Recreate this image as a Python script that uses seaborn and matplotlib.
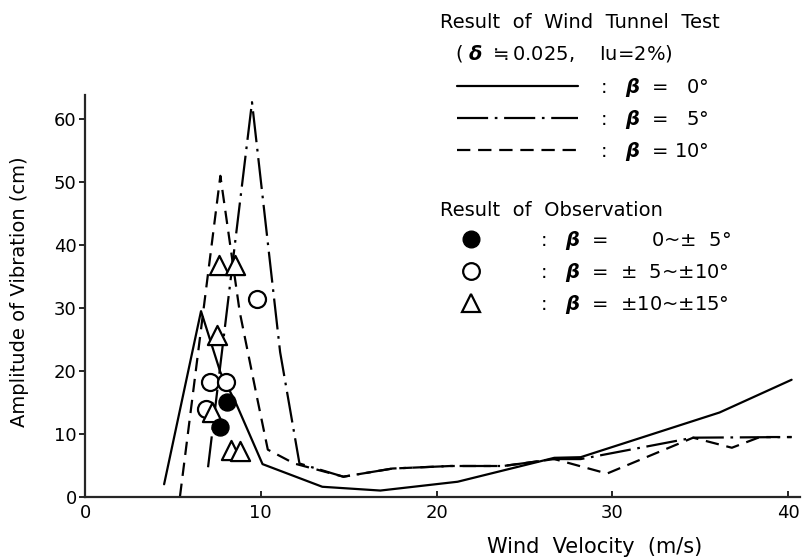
"""
Wind tunnel test vs. observation: amplitude of vibration over wind velocity
"""
import matplotlib
matplotlib.use('Agg')
import matplotlib.pyplot as plt
import seaborn as sns
from matplotlib.lines import Line2D

# Wind tunnel test results
beta0_x = [4.5, 6.6, 7.7, 8.6, 10.1, 13.5, 16.8, 21.2, 26.7, 28.2, 36.1, 40.2]
beta0_y = [2.0, 29.5, 19.8, 14.8, 5.2, 1.6, 1.0, 2.4, 6.2, 6.3, 13.4, 18.6]

beta5_x = [7.0, 9.5, 11.1, 12.2, 14.7, 17.5, 20.8, 23.8, 26.7, 28.2, 34.6, 40.2]
beta5_y = [4.7, 62.7, 23.0, 5.3, 3.2, 4.5, 4.9, 4.9, 6.0, 6.0, 9.4, 9.5]

beta10_x = [5.4, 7.7, 8.8, 9.8, 10.4, 11.9, 14.7, 17.5, 20.8, 23.8, 26.7, 29.7, 34.6, 36.8, 38.4, 40.2]
beta10_y = [0.0, 51.0, 29.4, 15.6, 7.5, 5.3, 3.2, 4.5, 4.9, 4.9, 6.0, 3.7, 9.4, 7.8, 9.5, 9.5]

# Observations
obs_filled_x = [8.1, 7.7]
obs_filled_y = [15.1, 11.1]
obs_open_x = [9.8, 7.1, 8.0, 6.9]
obs_open_y = [31.5, 18.3, 18.3, 14.0]
obs_tri_x = [7.6, 8.55, 7.5, 7.2, 8.3, 8.8]
obs_tri_y = [36.8, 36.8, 25.7, 13.4, 7.5, 7.3]

x_ticks = [0, 10, 20, 30, 40]
y_ticks = [0, 10, 20, 30, 40, 50, 60]

sns.set_style('ticks')
plt.rcParams['font.family'] = ['DejaVu Sans']
plt.rcParams['mathtext.fontset'] = 'dejavusans'
plt.rcParams['text.color'] = 'black'
plt.rcParams['axes.labelcolor'] = 'black'
plt.rcParams['xtick.color'] = 'black'
plt.rcParams['ytick.color'] = 'black'

fig = plt.figure(figsize=(8.02, 5.57), dpi=100)
ax = fig.add_axes([0.106, 0.108, 0.892, 0.721])

lw = 1.6
dashdot = [14, 3, 1.2, 3]
dashed = [6, 3.5]
sns.lineplot(x=beta0_x, y=beta0_y, ax=ax, sort=False, estimator=None,
             color='black', lw=lw, linestyle='-')
sns.lineplot(x=beta5_x, y=beta5_y, ax=ax, sort=False, estimator=None,
             color='black', lw=lw)
ax.lines[-1].set_dashes(dashdot)
sns.lineplot(x=beta10_x, y=beta10_y, ax=ax, sort=False, estimator=None,
             color='black', lw=lw)
ax.lines[-1].set_dashes(dashed)

sns.scatterplot(x=obs_open_x, y=obs_open_y, ax=ax, marker='o', s=150,
                facecolor='white', edgecolor='black', linewidth=1.6, zorder=3)
sns.scatterplot(x=obs_tri_x, y=obs_tri_y, ax=ax, marker='^', s=190,
                facecolor='white', edgecolor='black', linewidth=1.6, zorder=3)
sns.scatterplot(x=obs_filled_x, y=obs_filled_y, ax=ax, marker='o', s=150,
                color='black', edgecolor='black', zorder=4)

ax.set_xlim(0, 40.7)
ax.set_ylim(0, 63.8)
ax.set_xticks(x_ticks)
ax.set_yticks(y_ticks)
ax.tick_params(axis='y', direction='out', length=4, width=1.2, labelsize=13, pad=2)
ax.tick_params(axis='x', direction='in', length=4, width=1.2, labelsize=13, pad=5)
sns.despine(ax=ax)
for sp in ax.spines.values():
    sp.set_linewidth(1.6)

ax.set_xlabel('Wind  Velocity  (m/s)', fontsize=15)
ax.xaxis.set_label_coords(0.712, -0.1)
ax.set_ylabel('Amplitude of Vibration (cm)', fontsize=14)
ax.yaxis.set_label_coords(-0.078, 0.51)

# Legend headings
fs = 14
fig.text(440 / 802, 1 - 22 / 557, 'Result  of  Wind  Tunnel  Test', fontsize=fs,
         va='center', ha='left')
fig.text(455 / 802, 1 - 53 / 557,
         '( $\\boldsymbol{\\delta}$ $\\fallingdotseq$0.025,    Iu=2%)', fontsize=fs,
         va='center', ha='left')
fig.text(440 / 802, 1 - 211 / 557, 'Result  of  Observation', fontsize=fs,
         va='center', ha='left')

line_handles = [
    Line2D([], [], color='black', lw=lw, linestyle='-'),
    Line2D([], [], color='black', lw=lw, dashes=dashdot),
    Line2D([], [], color='black', lw=lw, dashes=dashed),
]
line_labels = [':   $\\boldsymbol{\\beta}$  =   0°',
               ':   $\\boldsymbol{\\beta}$  =   5°',
               ':   $\\boldsymbol{\\beta}$  = 10°']
fig.legend(line_handles, line_labels, loc='upper left',
           bbox_to_anchor=(457 / 802, 1 - 76 / 557), frameon=False,
           fontsize=fs, handlelength=6.2, handletextpad=1.15,
           labelspacing=0.47, borderpad=0, borderaxespad=0)

mk_handles = [
    Line2D([], [], color='black', marker='o', markersize=12, linestyle='none'),
    Line2D([], [], color='black', marker='o', markersize=12, linestyle='none',
           markerfacecolor='white', markeredgewidth=1.6),
    Line2D([], [], color='black', marker='^', markersize=13, linestyle='none',
           markerfacecolor='white', markeredgewidth=1.6),
]
mk_labels = [':   $\\boldsymbol{\\beta}$  =       0~±  5°',
             ':   $\\boldsymbol{\\beta}$  =  ±  5~±10°',
             ':   $\\boldsymbol{\\beta}$  =  ±10~±15°']
fig.legend(mk_handles, mk_labels, loc='upper left',
           bbox_to_anchor=(452 / 802, 1 - 229 / 557), frameon=False,
           fontsize=fs, handlelength=2.0, handletextpad=2.5,
           labelspacing=0.47, borderpad=0, borderaxespad=0)

fig.savefig('out.png', dpi=100)
plt.close(fig)
